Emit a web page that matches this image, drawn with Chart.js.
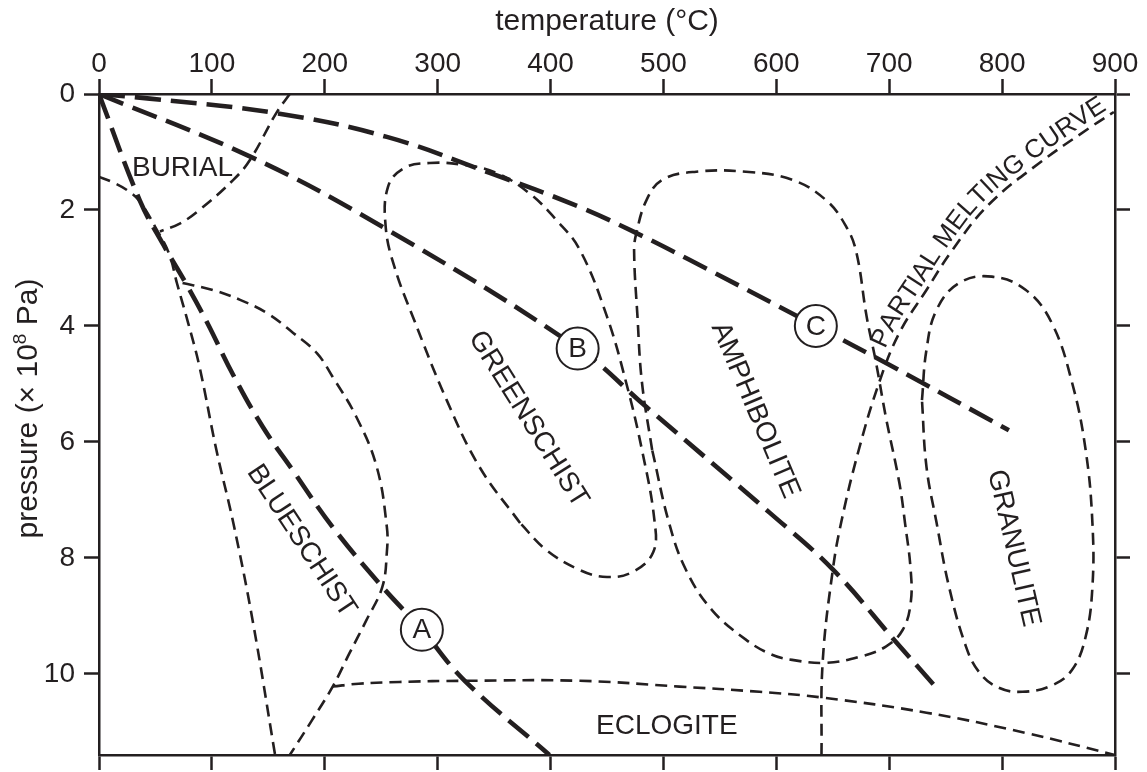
<!DOCTYPE html>
<html>
<head>
<meta charset="utf-8">
<title>Metamorphic facies</title>
<script src="https://cdn.jsdelivr.net/npm/chart.js@4.4.0/dist/chart.umd.min.js"></script>
<style>
  html, body { margin: 0; padding: 0; background: #fff; }
  #wrap { width: 1147px; height: 772px; }
</style>
</head>
<body>
<div id="wrap"><canvas id="facies" width="1147" height="772"></canvas></div>
<script>
// P-T diagram of metamorphic facies with three geotherms (A, B, C)
// every point is [temperature in °C, pressure in 10^8 Pa]

const tempTicks = [0, 100, 200, 300, 400, 500, 600, 700, 800, 900];
const pressTicks = [0, 2, 4, 6, 8, 10];
const tempMax = 900;
const pressMax = 11.4;

// geotherms (thick dashes)
const geothermA = [[0, 0], [36, 1.83], [57, 2.6], [78, 3.3], [96, 3.95], [119, 4.85], [145, 5.74], [172, 6.5], [207, 7.47], [251, 8.5], [286, 9.24], [324, 10.12], [399, 11.4]];
const geothermB = [[0, 0], [134, 1.08], [251, 2.29], [424, 4.38], [485, 5.4], [594, 7.22], [650, 8.2], [706, 9.45], [740, 10.2]];
const geothermC = [[0, 0], [45, 0.08], [157, 0.33], [255, 0.74], [346, 1.36], [426, 1.95], [473, 2.37], [523, 2.86], [635, 4.0], [700, 4.67], [806, 5.8]];

// facies boundaries (thin dashes)
const burialTop = [[169, 0], [157, 0.33], [134, 1.13], [119, 1.48], [89, 2.0], [72, 2.23], [54, 2.37]];
const blueschistLeft = [[0, 1.43], [12, 1.52], [25, 1.66], [36, 1.85], [50, 2.3], [62, 2.75], [69, 3.26], [79, 3.95], [89, 4.7], [104, 6.14], [119, 7.4], [136, 9.07], [156, 11.4]];
const blueschistRight = [[74, 3.26], [101, 3.38], [125, 3.55], [149, 3.78], [172, 4.12], [193, 4.47], [207, 4.88], [228, 5.57], [246, 6.43], [255, 7.47], [255, 7.9], [251, 8.5], [237, 9.07], [222, 9.64], [207, 10.22], [189, 10.79], [169, 11.4]];
const eclogiteTop = [[207, 10.22], [230, 10.17], [266, 10.14], [324, 10.12], [426, 10.12], [514, 10.22], [585, 10.31], [641, 10.41], [733, 10.67], [821, 11.02], [900, 11.4]];
const greenschist = [[373, 7.4], [337, 6.43], [308, 5.28], [278, 3.84], [262, 3.0], [254, 2.3], [256, 1.6], [270, 1.28], [293, 1.19], [322, 1.22], [352, 1.36], [381, 1.71], [405, 2.17], [426, 2.69], [450, 3.84], [467, 4.98], [481, 6.14], [492, 7.35], [491, 7.9], [473, 8.24], [450, 8.33], [426, 8.21], [396, 7.86], [373, 7.4]];
const amphibolite = [[490, 6.14], [481, 4.98], [477, 3.84], [474, 2.7], [476, 2.4], [485, 1.83], [499, 1.48], [529, 1.34], [573, 1.34], [614, 1.48], [644, 1.83], [662, 2.29], [671, 2.74], [680, 3.84], [688, 4.6], [697, 5.57], [709, 6.71], [714, 7.4], [719, 8.21], [719, 8.78], [712, 9.24], [697, 9.53], [673, 9.71], [644, 9.81], [614, 9.76], [595, 9.66], [573, 9.41], [543, 8.9], [520, 8.21], [505, 7.4], [490, 6.14]];
const partialMelting = [[640, 11.4], [641, 9.81], [650, 8.21], [658, 7.34], [673, 6.14], [691, 4.98], [709, 4.12], [733, 3.38], [756, 2.69], [788, 1.91], [833, 1.19], [877, 0.59], [899, 0.31]];
const granulite = [[729, 5.28], [733, 4.41], [742, 3.72], [762, 3.26], [791, 3.15], [821, 3.38], [844, 3.95], [862, 4.98], [874, 6.14], [880, 7.4], [880, 8.5], [874, 9.36], [862, 9.93], [844, 10.2], [818, 10.31], [797, 10.24], [780, 9.98], [768, 9.53], [753, 8.5], [742, 7.4], [733, 6.43], [729, 5.28]];

// text placed in the diagram: [text, temperature, pressure, angle in degrees]
const faciesNames = [
  ['BURIAL', 74, 1.26, 0],
  ['BLUESCHIST', 180, 7.7, 56.6],
  ['GREENSCHIST', 381, 5.6, 58],
  ['AMPHIBOLITE', 582, 5.45, 67],
  ['GRANULITE', 811, 7.83, 77],
  ['ECLOGITE', 503, 10.88, 0]
];
// label that follows the partial melting curve, starting near [temperature, pressure]
const curveLabel = 'PARTIAL MELTING CURVE';
const curveLabelStart = [701, 4.45];
// circled geotherm markers: [letter, temperature, pressure]
const geothermMarks = [['A', 286, 9.24], ['B', 424, 4.39], ['C', 635, 4.0]];

const ink = '#231f20';
const fontFamily = "'Liberation Sans', Arial, Helvetica, sans-serif";
const textSize = 28;
const titleSize = 30;

const toXY = pts => pts.map(([t, p]) => ({ x: t, y: p }));

function thickLine(name, pts) {
  return {
    label: name, data: toXY(pts), showLine: true,
    borderColor: ink, borderWidth: 4.6, borderDash: [26, 10],
    pointRadius: 0, tension: 0.4, fill: false
  };
}

function thinLine(name, pts) {
  return {
    label: name, data: toXY(pts), showLine: true,
    borderColor: ink, borderWidth: 2.6, borderDash: [12, 7],
    pointRadius: 0, tension: 0.4, fill: false
  };
}

const datasets = [
  thinLine('burial', burialTop),
  thinLine('blueschist left', blueschistLeft),
  thinLine('blueschist right', blueschistRight),
  thinLine('eclogite', eclogiteTop),
  thinLine('greenschist', greenschist),
  thinLine('amphibolite', amphibolite),
  thinLine('partial melting', partialMelting),
  thinLine('granulite', granulite),
  thickLine('A', geothermA),
  thickLine('B', geothermB),
  thickLine('C', geothermC)
];
const meltIndex = 6;

// shared axis styling
function axisGrid() {
  return { drawOnChartArea: false, drawTicks: true, tickLength: 15, tickWidth: 2.5, tickColor: ink };
}
const axisBorder = { display: true, width: 2.5, color: ink };
const tickFont = { family: fontFamily, size: textSize, lineHeight: 1 };

// pin the box of each axis so the plot frame lands where the original has it
function fixBox(size) {
  return s => {
    if (s.isHorizontal()) s.height = size; else s.width = size;
    s.paddingTop = 0;
    s.paddingBottom = 0;
  };
}

// sample the drawn bezier of a dataset into a dense polyline with arc lengths
function sampleCurve(meta) {
  const pts = meta.data;
  const out = [];
  for (let i = 0; i < pts.length - 1; i++) {
    const a = pts[i], b = pts[i + 1];
    const c1x = a.cp2x ?? a.x, c1y = a.cp2y ?? a.y;
    const c2x = b.cp1x ?? b.x, c2y = b.cp1y ?? b.y;
    for (let k = 0; k < 24; k++) {
      const u = k / 24, v = 1 - u;
      out.push({
        x: v * v * v * a.x + 3 * v * v * u * c1x + 3 * v * u * u * c2x + u * u * u * b.x,
        y: v * v * v * a.y + 3 * v * v * u * c1y + 3 * v * u * u * c2y + u * u * u * b.y
      });
    }
  }
  const last = pts[pts.length - 1];
  out.push({ x: last.x, y: last.y });
  let s = 0;
  out.forEach((p, i) => {
    if (i > 0) s += Math.hypot(p.x - out[i - 1].x, p.y - out[i - 1].y);
    p.s = s;
  });
  return out;
}

function pointAt(curve, s) {
  let i = 1;
  while (i < curve.length - 1 && curve[i].s < s) i++;
  const a = curve[i - 1], b = curve[i];
  const f = b.s > a.s ? (s - a.s) / (b.s - a.s) : 0;
  return { x: a.x + (b.x - a.x) * f, y: a.y + (b.y - a.y) * f, ang: Math.atan2(b.y - a.y, b.x - a.x) };
}

// labels, circles and the y title drawn on top of the lines
const annotatePlugin = {
  id: 'annotate',
  afterDatasetsDraw(chart) {
    const { ctx, scales } = chart;
    const xs = scales.x, ys = scales.y;
    ctx.save();
    ctx.fillStyle = ink;
    ctx.textAlign = 'center';
    ctx.textBaseline = 'middle';
    ctx.font = textSize + 'px ' + fontFamily;
    faciesNames.forEach(([text, t, p, ang]) => {
      ctx.save();
      ctx.translate(xs.getPixelForValue(t), ys.getPixelForValue(p));
      ctx.rotate(ang * Math.PI / 180);
      ctx.fillText(text, 0, 1);
      ctx.restore();
    });

    // text riding on the upper-left side of the partial melting curve
    const curve = sampleCurve(chart.getDatasetMeta(meltIndex));
    const sx = xs.getPixelForValue(curveLabelStart[0]);
    const sy = ys.getPixelForValue(curveLabelStart[1]);
    let start = curve[0];
    curve.forEach(p => {
      if (Math.hypot(p.x - sx, p.y - sy) < Math.hypot(start.x - sx, start.y - sy)) start = p;
    });
    ctx.font = '26px ' + fontFamily;
    let run = start.s;
    for (const ch of curveLabel) {
      const w = ctx.measureText(ch).width;
      const q = pointAt(curve, run + w / 2);
      const nx = Math.sin(q.ang), ny = -Math.cos(q.ang);
      ctx.save();
      ctx.translate(q.x + nx * 14, q.y + ny * 14);
      ctx.rotate(q.ang);
      ctx.fillText(ch, 0, 1);
      ctx.restore();
      run += w;
    }

    ctx.font = textSize + 'px ' + fontFamily;
    geothermMarks.forEach(([letter, t, p]) => {
      const cx = xs.getPixelForValue(t);
      const cy = ys.getPixelForValue(p);
      ctx.beginPath();
      ctx.arc(cx, cy, 21, 0, Math.PI * 2);
      ctx.fillStyle = '#fff';
      ctx.fill();
      ctx.lineWidth = 2;
      ctx.strokeStyle = ink;
      ctx.stroke();
      ctx.fillStyle = ink;
      ctx.fillText(letter, cx, cy + 1);
    });
    ctx.restore();
  },
  afterDraw(chart) {
    // y title with a raised exponent
    const { ctx, chartArea } = chart;
    const big = titleSize + 'px ' + fontFamily;
    const small = '19px ' + fontFamily;
    const parts = [['pressure (\u00d7 10', big, 0], ['8', small, -11], [' Pa)', big, 0]];
    ctx.save();
    let total = 0;
    parts.forEach(([s, f]) => { ctx.font = f; total += ctx.measureText(s).width; });
    ctx.translate(37, (chartArea.top + chartArea.bottom) / 2 - 16);
    ctx.rotate(-Math.PI / 2);
    ctx.fillStyle = ink;
    ctx.textBaseline = 'alphabetic';
    ctx.textAlign = 'left';
    let x = -total / 2;
    parts.forEach(([s, f, dy]) => {
      ctx.font = f;
      ctx.fillText(s, x, dy);
      x += ctx.measureText(s).width;
    });
    ctx.restore();
  }
};

const faciesChart = new Chart(document.getElementById('facies'), {
  type: 'scatter',
  data: { datasets },
  options: {
    responsive: false,
    animation: false,
    devicePixelRatio: 1,
    layout: { padding: 0 },
    plugins: { legend: { display: false }, tooltip: { enabled: false } },
    scales: {
      x: {
        type: 'linear', position: 'top', min: 0, max: tempMax,
        afterBuildTicks: s => { s.ticks = tempTicks.map(v => ({ value: v })); },
        ticks: { font: tickFont, color: ink, padding: 1 },
        grid: axisGrid(), border: axisBorder,
        title: { display: true, text: 'temperature (\u00b0C)', color: ink, font: { family: fontFamily, size: titleSize, lineHeight: 1.2 }, padding: { top: 4, bottom: 0 } },
        afterFit: fixBox(94)
      },
      xBottom: {
        type: 'linear', position: 'bottom', min: 0, max: tempMax,
        afterBuildTicks: s => { s.ticks = tempTicks.map(v => ({ value: v })); },
        ticks: { display: false },
        grid: axisGrid(), border: axisBorder,
        afterFit: fixBox(17)
      },
      y: {
        type: 'linear', position: 'left', reverse: true, min: 0, max: pressMax,
        afterBuildTicks: s => { s.ticks = pressTicks.map(v => ({ value: v })); },
        ticks: { font: tickFont, color: ink, padding: 9 },
        grid: axisGrid(), border: axisBorder,
        afterFit: fixBox(99)
      },
      yRight: {
        type: 'linear', position: 'right', reverse: true, min: 0, max: pressMax,
        afterBuildTicks: s => { s.ticks = pressTicks.map(v => ({ value: v })); },
        ticks: { display: false },
        grid: axisGrid(), border: axisBorder,
        afterFit: fixBox(32)
      }
    }
  },
  plugins: [annotatePlugin]
});
</script>
</body>
</html>
